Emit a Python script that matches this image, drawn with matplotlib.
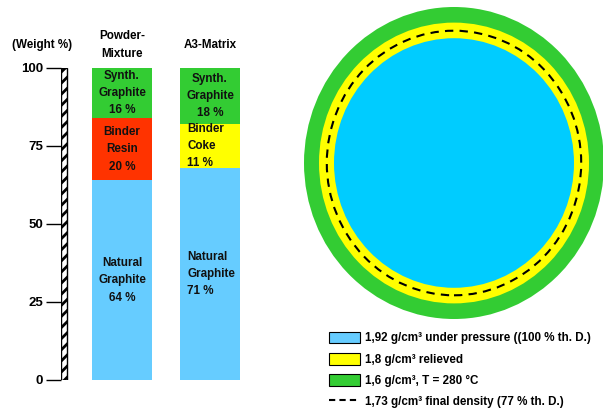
import matplotlib
matplotlib.use('Agg')
import matplotlib.pyplot as plt
from matplotlib.patches import Ellipse, Patch
from matplotlib.lines import Line2D

plt.rcParams['font.family'] = ['Liberation Sans', 'DejaVu Sans']
plt.rcParams['font.weight'] = 'bold'
plt.rcParams['hatch.linewidth'] = 2.0

# bar data (weight %), drawn bottom to top
columns = ['Powder-\nMixture', 'A3-Matrix']
bar_x = [1, 2]
seg_heights = [[64, 20, 16], [68, 14, 18]]
seg_colors = [['#66CCFF', '#FF3300', '#33CC33'], ['#66CCFF', '#FFFF00', '#33CC33']]
seg_labels = [['Natural\nGraphite\n64 %', 'Binder\nResin\n20 %', 'Synth.\nGraphite\n16 %'],
              ['Natural\nGraphite\n71 %', 'Binder\nCoke\n11 %', 'Synth.\nGraphite\n18 %']]
seg_align = [['center', 'center', 'center'], ['left', 'left', 'center']]
yticks = [0, 25, 50, 75, 100]

# circle rings (relative radius), outer to inner
ring_radii = [1.0, 0.90, 0.80]
ring_colors = ['#33CC33', '#FFFF00', '#00CCFF']
final_radius = 0.848
legend_labels = ['1,92 g/cm³ under pressure ((100 % th. D.)',
                 '1,8 g/cm³ relieved',
                 '1,6 g/cm³, T = 280 °C',
                 '1,73 g/cm³ final density (77 % th. D.)']

fig = plt.figure(figsize=(6.03, 4.12), dpi=100)

# ---- left: stacked bars
ax = fig.add_axes([61 / 603, 32 / 412, 184 / 603, 312 / 412])
width = 60 / 88
for i, x in enumerate(bar_x):
    bottom = 0
    for h, c, lab, al in zip(seg_heights[i], seg_colors[i], seg_labels[i], seg_align[i]):
        ax.bar(x, h, bottom=bottom, width=width, color=c, linewidth=0)
        tx = x if al == 'center' else x - width / 2 + 0.08
        ax.text(tx, bottom + h / 2, lab, ha=al, va='center', fontsize=8.4,
                fontweight='bold', linespacing=1.6, color='#111111')
        bottom += h
    ax.text(x, 107.4, columns[i], ha='center', va='center', fontsize=8.4,
            fontweight='bold', linespacing=1.6)

# hatched axis bar
ax.bar(0.341, 100, width=0.068, color='white', edgecolor='black', hatch='///', linewidth=1)
ax.text(0.09, 107.4, '(Weight %)', ha='center', va='center', fontsize=8.4, fontweight='bold')

ax.set_xlim(0.307, 2.398)
ax.set_ylim(0, 100)
ax.set_yticks(yticks)
ax.set_xticks([])
for s in ax.spines.values():
    s.set_visible(False)
ax.tick_params(axis='y', length=11, width=1, pad=2, labelsize=9.5)
for t in ax.get_yticklabels():
    t.set_fontweight('bold')

# ---- right: density rings
cx = fig.add_axes([304 / 603, 93 / 412, 300 / 603, 312 / 412])
for r, c in zip(ring_radii, ring_colors):
    cx.add_patch(Ellipse((0, 0), 2 * r, 2 * r, color=c, linewidth=0))
cx.add_patch(Ellipse((0, 0), 2 * final_radius, 2 * final_radius, fill=False,
                     edgecolor='black', linewidth=1.5, linestyle=(0, (4, 3))))
cx.set_xlim(-1, 1)
cx.set_ylim(-1, 1)
cx.axis('off')

handles = [Patch(facecolor='#66CCFF', edgecolor='black', linewidth=0.8),
           Patch(facecolor='#FFFF00', edgecolor='black', linewidth=0.8),
           Patch(facecolor='#33CC33', edgecolor='black', linewidth=0.8),
           Line2D([0], [0], color='black', linestyle=(0, (3, 2)), linewidth=1.5)]
fig.legend(handles, legend_labels, loc='upper left',
           bbox_to_anchor=(318 / 603, 1 - 321 / 412), frameon=False,
           prop={'weight': 'bold', 'size': 8.4},
           handlelength=2.7, handleheight=1.2, labelspacing=0.7, handletextpad=0.45)

plt.savefig('out.png', dpi=100)
